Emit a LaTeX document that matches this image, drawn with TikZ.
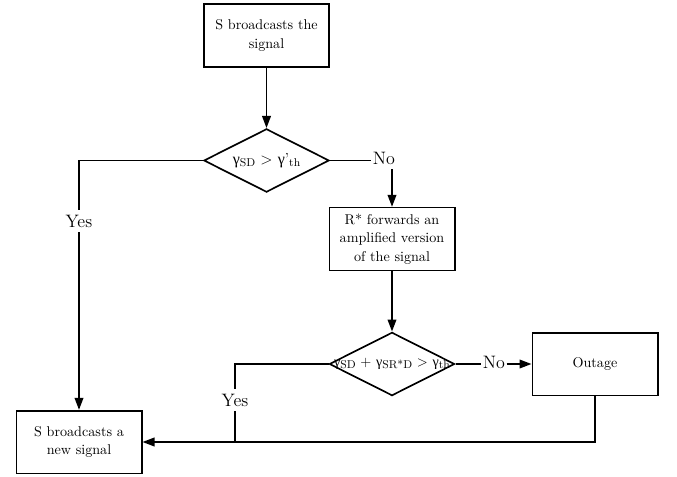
\documentclass[tikz,border=0pt]{standalone}
\usepackage{fontspec}
\usetikzlibrary{shapes.geometric,arrows.meta}
\newfontfamily\grk{Liberation Serif}
\newcommand{\gm}{{\grk γ}}
\newcommand{\sbs}[1]{\raisebox{-0.35ex}{\fontsize{8.5pt}{9pt}\selectfont #1}}
\begin{document}
\begin{tikzpicture}[x=0.75pt,y=-0.75pt,
  line width=1.25pt,
  box/.style={draw,rectangle,line width=1.25pt,minimum width=94pt,minimum height=47pt,
    align=center,font=\fontsize{10.6pt}{14pt}\selectfont,inner sep=2pt},
  dia/.style={draw,diamond,line width=1.25pt,minimum width=94pt,minimum height=47.5pt,inner sep=0pt},
  lbl/.style={font=\fontsize{13.5pt}{15pt}\selectfont,inner ysep=3pt,inner xsep=0.5pt},
  dtext/.style={font=\fontsize{12pt}{14pt}\selectfont,inner sep=0pt},
  arr/.style={-{Triangle[length=9pt,width=6.5pt]}}]
\useasboundingbox (0,0) rectangle (677,477);
% boxes
\node[box] (b1) at (266.5,35.5) {S broadcasts the\\signal};
\node[box] (b2) at (392,239) {R* forwards an\\amplified version\\of the signal};
\node[box] (out) at (595,364) {Outage};
\node[box] (b3) at (79,442) {S broadcasts a\\new signal};
% diamonds
\node[dia] (d1) at (266.5,160.5) {};
\node[dtext] (t1) at (d1) {\gm\sbs{SD} > \gm'\sbs{th}};
\node[dia] (d2) at (392,364) {};
\node[dtext,font=\fontsize{10.6pt}{13pt}\selectfont] (t2) at (d2) {\gm\sbs{SD} + \gm\sbs{SR*D} > \gm\sbs{th}};
% labels
\node[lbl] (yes1) at (79,221) {Yes};
\node[lbl] (no1) at (384,158) {No};
\node[lbl] (yes2) at (235,400) {Yes};
\node[lbl] (no2) at (494,362) {No};
% connectors
\draw[arr] (b1.south) -- (d1.north);
\draw (d1.west) -| (yes1.north);
\draw[arr] (yes1.south) -- (yes1.south |- b3.north);
\draw (d1.east) -- (d1.east -| no1.west);
\draw[arr] (no1.south -| b2.north) -- (b2.north);
\draw[arr] (b2.south) -- (d2.north);
\draw (d2.east) -- (no2.west |- d2.east);
\draw[arr] (no2.east |- d2.east) -- (out.west);
\draw (d2.west) -| (yes2.north);
\draw (yes2.south) -- (yes2.south |- b3.east);
\draw[arr] (out.south) |- (b3.east);
\end{tikzpicture}
\end{document}
